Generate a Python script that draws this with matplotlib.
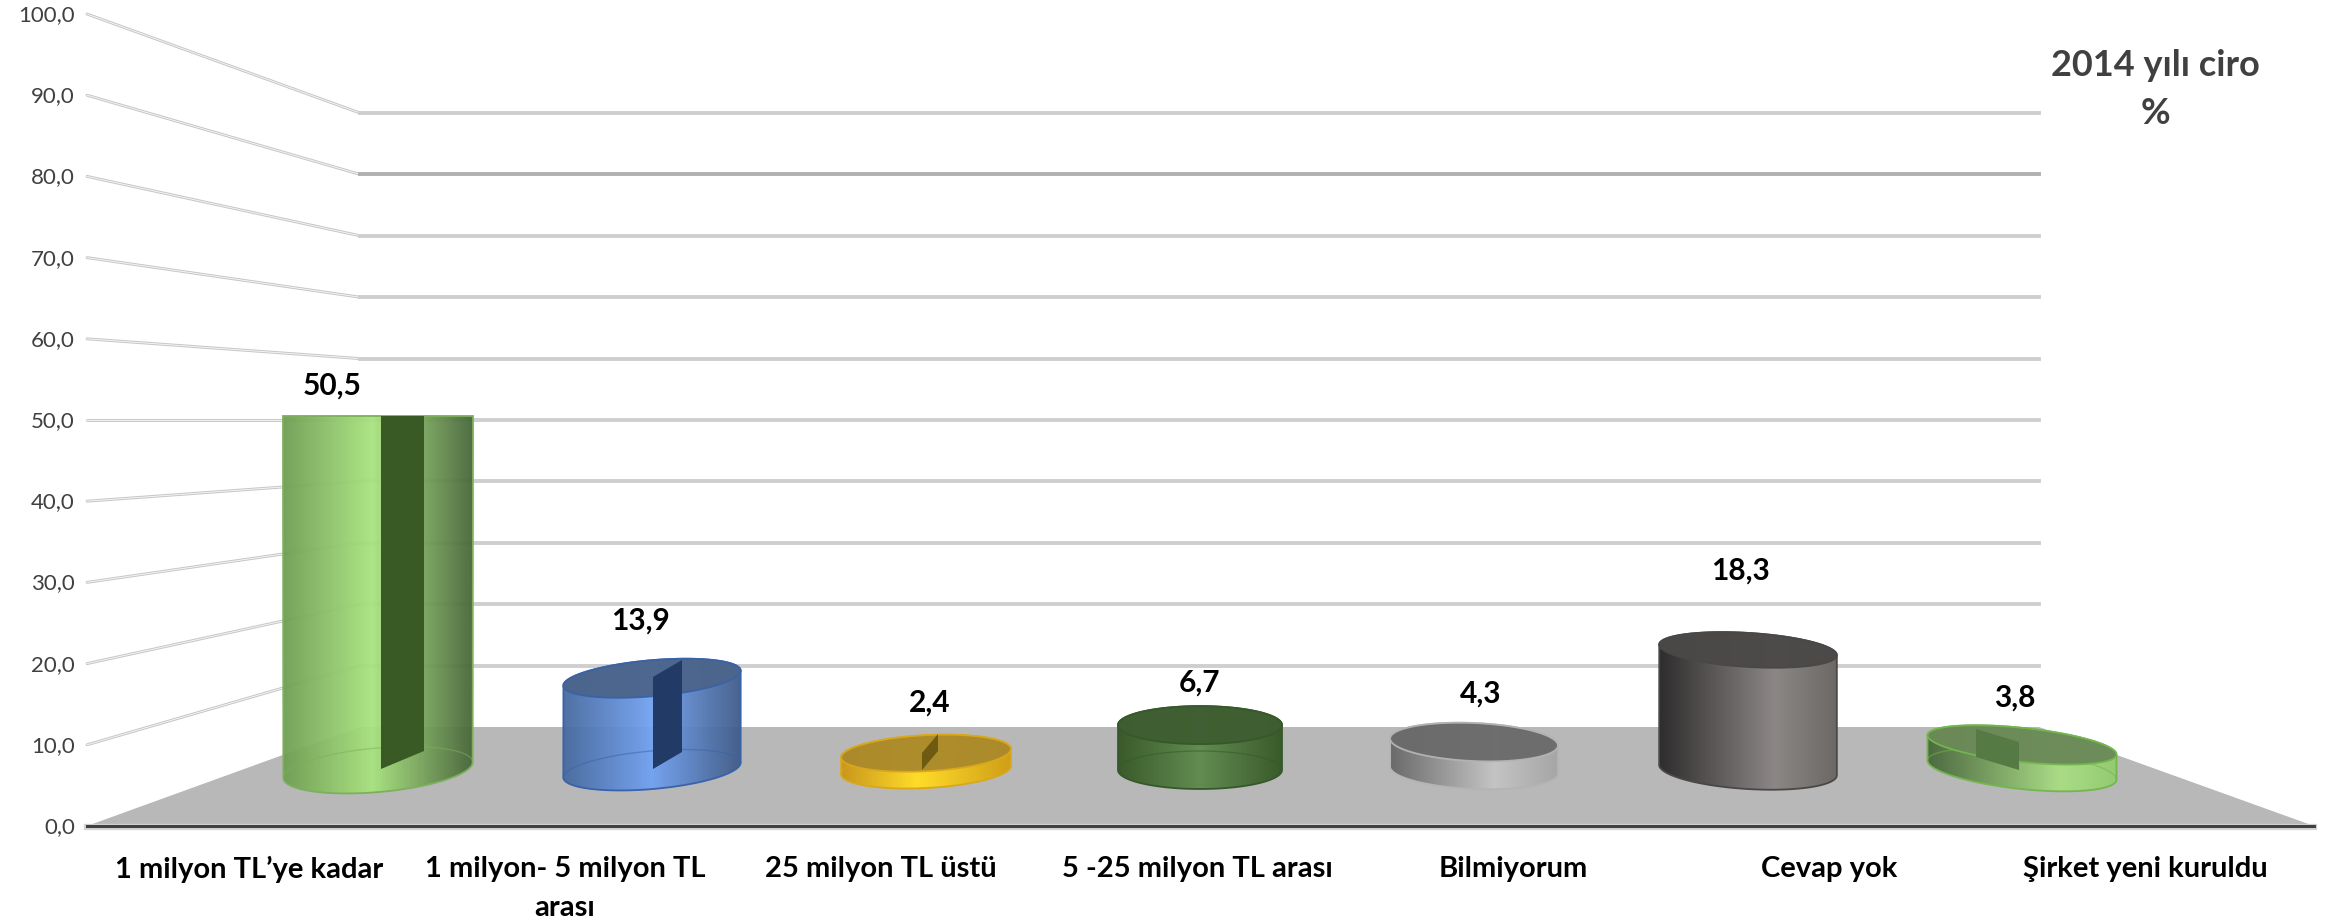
import numpy as np
import matplotlib
matplotlib.use("Agg")
import matplotlib.pyplot as plt
from matplotlib.colors import LinearSegmentedColormap
from matplotlib.patches import Polygon

categories = ["1 milyon TL’ye kadar", "1 milyon- 5 milyon TL\narası", "25 milyon TL üstü",
              "5 -25 milyon TL arası", "Bilmiyorum", "Cevap yok", "Şirket yeni kuruldu"]
values = [50.5, 13.9, 2.4, 6.7, 4.3, 18.3, 3.8]
value_labels = ["50,5", "13,9", "2,4", "6,7", "4,3", "18,3", "3,8"]
y_ticks = [0, 10, 20, 30, 40, 50, 60, 70, 80, 90, 100]
y_tick_labels = ["0,0", "10,0", "20,0", "30,0", "40,0", "50,0", "60,0", "70,0", "80,0", "90,0", "100,0"]

W, H = 2333, 921
XS = 274.0  # px per category
YS = 6.6    # px per value unit
X0, Y0 = 378.0, 770.0  # px of category 0, value 0

def dx(px):
    return (px - X0) / XS

def dy(px):
    return (Y0 - px) / YS

fig = plt.figure(figsize=(W / 100, H / 100), dpi=100, facecolor="white")
ax = fig.add_axes([0, 0, 1, 1])
ax.axis("off")
xlim = (dx(0), dx(W))
ylim = (dy(H), dy(0))

plt.rcParams["font.family"] = ["Lato", "DejaVu Sans"]

# floor
floor = [(dx(87), dy(826)), (dx(360), dy(727)), (dx(2039), dy(727)), (dx(2314), dy(826))]
ax.add_patch(Polygon(floor, fc="#b8b8b8", ec="none", zorder=1))

# walls and y labels
for v, lab in zip(y_ticks, y_tick_labels):
    front = 826 - 8.12 * v
    back = 727 - 6.14 * v
    if v > 0:
        ax.plot([dx(87), dx(360)], [dy(front), dy(back)], color="#c6c6c6", lw=2.1, zorder=2,
                solid_capstyle="round")
        ax.plot([dx(87), dx(360)], [dy(front), dy(back)], color="#f4f4f4", lw=0.7, zorder=2)
        ax.plot([dx(360), dx(2039)], [dy(back), dy(back)], color="#b0b0b0" if v == 90 else "#cfcfcf",
                lw=2.8, zorder=2)
    ax.text(dx(75), dy(front + 1), lab, ha="right", va="center", fontsize=16, color="#404040", zorder=6)

ax.plot([dx(87), dx(2314)], [dy(827), dy(827)], color="#d4d4d4", lw=4.5, zorder=2)
ax.plot([dx(87), dx(2314)], [dy(826), dy(826)], color="#404040", lw=2.2, zorder=3)

# per-bar drawing layout
half_w = [95, 89, 85, 82, 84, 89, 95]
base_b = [22, 19, 18, 19, 19, 19, 19]
top_b = [0, 18, 18, 19, 19, 17, 17]
tilt = [5, 5, 3, 0, -2.5, -3.5, -6]
px_unit = [7.0, 6.6, 7.0, 6.7, 6.5, 6.56, 6.6]
body_cols = [["#6f9e52", "#a9e47f", "#48663a"], ["#46699f", "#72a2f2", "#3f5b88"], ["#c9971c", "#ffdc2a", "#cf9f18"],
             ["#3a5a2a", "#628c52", "#3a5a2a"], ["#6a6a6a", "#c4c4c4", "#a6a6a6"], ["#2e2c2c", "#8c8786", "#6c6866"],
             ["#47663a", "#aade84", "#92cc6e"]]
body_peak = [0.47, 0.5, 0.45, 0.5, 0.62, 0.65, 0.7]
body_alpha = [0.95, 0.95, 1, 1, 1, 1, 0.95]
top_cols = ["none", "#4c658c", "#ab8a2c", "#3f5e31", "#6b6b6b", "#4b4948", "#6b8a58"]
edge_cols = ["#7cb05c", "#3a62a8", "#d9a81a", "#35592a", "#b4b4b4", "#4a4847", "#73b64e"]
# dark slab: x offsets, bottom-left y, bottom-right y, height, colour
slabs = [(3, 46, 769, 751, 353, "#3a5a25"), (1, 30, 769, 752, 92, "#223a66"), (-4, 12, 770, 751, 17, "#6e5a10"),
         None, None, None, (-46, -3, 757, 770, 28, "#567a44")]
label_px = [332, 640, 930, 1199, 1481, 1740, 2015]
label_py = [386, 621, 703, 683, 694, 571, 698]

def ellipse(cx, cy, a, b, deg, n=180):
    t = np.linspace(0, 2 * np.pi, n, endpoint=False)
    r = np.radians(deg)
    x = cx + a * np.cos(t) * np.cos(r) - b * np.sin(t) * np.sin(r)
    y = cy - a * np.cos(t) * np.sin(r) - b * np.sin(t) * np.cos(r)
    return x, y

def half_arc(x, y, lower=True):
    # part of the outline from the leftmost to the rightmost point
    il, ir = int(np.argmin(x)), int(np.argmax(x))
    idx = np.roll(np.arange(len(x)), -il)
    k = int(np.where(idx == ir)[0][0])
    a1, a2 = idx[:k + 1], idx[k:]
    first_lower = y[a1].mean() > y[a2].mean()
    if lower == first_lower:
        return x[a1], y[a1]
    return x[a2][::-1], y[a2][::-1]

for i, v in enumerate(values):
    cx = X0 + XS * i
    a = half_w[i]
    top_y = Y0 - v * px_unit[i]
    xb, yb = ellipse(cx, Y0, a, base_b[i], tilt[i])
    lx, ly = half_arc(xb, yb, lower=True)
    if top_b[i] > 0:
        xt, yt = ellipse(cx, top_y, a, top_b[i], tilt[i])
        ux, uy = half_arc(xt, yt, lower=False)
    else:
        xt, yt = None, None
        ux, uy = np.array([cx - a, cx + a]), np.array([416.0, 416.0])
    outline = np.vstack([np.column_stack([dx(lx), dy(ly)]), np.column_stack([dx(ux[::-1]), dy(uy[::-1])])])
    body = Polygon(outline, fc="none", ec=edge_cols[i], lw=1.3, zorder=4.3)
    ax.add_patch(body)
    cmap = LinearSegmentedColormap.from_list("b%d" % i, [(0, body_cols[i][0]), (body_peak[i], body_cols[i][1]),
                                                         (1, body_cols[i][2])])
    grad = np.linspace(0, 1, 256).reshape(1, -1)
    im = ax.imshow(grad, cmap=cmap, aspect="auto", alpha=body_alpha[i], zorder=4,
                   extent=(dx(cx - a), dx(cx + a), outline[:, 1].min(), outline[:, 1].max()))
    im.set_clip_path(body)
    # back rim of the base shows through the glassy bars
    if i in (0, 1, 2, 3, 6):
        bx, by = half_arc(xb, yb, lower=False)
        ax.plot(dx(bx), dy(by), color=edge_cols[i], lw=1.0, alpha=0.5, zorder=4.4)
    if top_b[i] > 0:
        ax.add_patch(Polygon(np.column_stack([dx(xt), dy(yt)]), fc=top_cols[i], ec=edge_cols[i], lw=1.3,
                             alpha=0.97, zorder=4.5))
    if slabs[i] is not None:
        d0, d1, yl, yr, hgt, col = slabs[i]
        pts = [(dx(cx + d0), dy(yl)), (dx(cx + d1), dy(yr)), (dx(cx + d1), dy(yr - hgt)), (dx(cx + d0), dy(yl - hgt))]
        slab = Polygon(pts, fc=col, ec="none", zorder=4.7)
        ax.add_patch(slab)
        if i == 0:
            slab.set_clip_path(body)
    ax.text(dx(label_px[i]), dy(label_py[i]), value_labels[i], ha="center", va="center", fontsize=21.5,
            fontweight="bold", color="black", zorder=6)

# category labels, on their own wider spacing
for i, c in enumerate(categories):
    lines = c.split("\n")
    xp = 249 + 316 * i
    ax.text(dx(xp), dy(869), lines[0], ha="center", va="center", fontsize=21, fontweight="bold", color="black")
    if len(lines) > 1:
        ax.text(dx(xp), dy(908), lines[1], ha="center", va="center", fontsize=21, fontweight="bold", color="black")

ax.text(dx(2155), dy(65), "2014 yılı ciro", ha="center", va="center", fontsize=26, fontweight="bold", color="#404040")
ax.text(dx(2155), dy(113), "%", ha="center", va="center", fontsize=26, fontweight="bold", color="#404040")

ax.set_xlim(*xlim)
ax.set_ylim(*ylim)
fig.savefig("out.png", dpi=100)
